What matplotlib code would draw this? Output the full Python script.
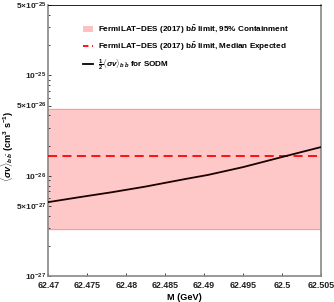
import matplotlib.pyplot as plt
from matplotlib.patches import Patch
from matplotlib.lines import Line2D
from matplotlib.ticker import FixedLocator, LogLocator, NullFormatter

plt.rcParams['font.family'] = ['Liberation Sans', 'DejaVu Sans']
plt.rcParams['mathtext.fontset'] = 'custom'
plt.rcParams['mathtext.rm'] = 'Liberation Sans:bold'
plt.rcParams['mathtext.it'] = 'Liberation Sans:italic:bold'
plt.rcParams['mathtext.bf'] = 'Liberation Sans:bold'

# curve
mass = [62.470, 62.4739, 62.4781, 62.4824, 62.4876, 62.4905, 62.495, 62.5006, 62.505]
sigv = [5.47e-27, 6.11e-27, 6.85e-27, 7.79e-27, 9.29e-27, 1.02e-26, 1.22e-26, 1.58e-26, 1.93e-26]

band_lo = 2.94e-27
band_hi = 4.65e-26
median = 1.57e-26

xticks = [62.47, 62.475, 62.48, 62.485, 62.49, 62.495, 62.5, 62.505]
xlabels = ['62.47', '62.475', '62.48', '62.485', '62.49', '62.495', '62.5', '62.505']
yticks = [1e-27, 5e-27, 1e-26, 5e-26, 1e-25, 5e-25]
ylabels = [r'$10^{-27}$', r'$5{\times}10^{-27}$', r'$10^{-26}$',
           r'$5{\times}10^{-26}$', r'$10^{-25}$', r'$5{\times}10^{-25}$']

fig = plt.figure(figsize=(3.34, 3.02), dpi=100)
ax = fig.add_axes([48.3 / 334, 1 - 276.3 / 302, (321 - 48.3) / 334, (276.3 - 5) / 302])

ax.axhspan(band_lo, band_hi, color='#ffc8c8', zorder=1)
ax.axhline(band_lo, color='#f4a0a0', lw=0.8, zorder=2)
ax.axhline(band_hi, color='#f4a0a0', lw=0.8, zorder=2)
ax.axhline(median, color='#ff0000', lw=1.3, ls=(0, (5, 3)), zorder=3)
ax.plot(mass, sigv, color='#1a0000', lw=1.3, zorder=4)

ax.set_yscale('log')
ax.set_xlim(62.47, 62.505)
ax.set_ylim(1e-27, 5e-25)
ax.set_xticks(xticks)
ax.set_xticklabels(xlabels)
ax.yaxis.set_major_locator(FixedLocator(yticks))
ax.set_yticklabels(ylabels)
ax.yaxis.set_minor_locator(LogLocator(base=10, subs=[2, 3, 4, 6, 7, 8, 9]))
ax.yaxis.set_minor_formatter(NullFormatter())
ax.tick_params(which='both', direction='in', colors='#222222',
               length=2.5, width=0.6, pad=1.5)
ax.tick_params(which='minor', length=1.5)
ax.tick_params(axis='x', labelsize=6.4, pad=3.5)
ax.tick_params(axis='y', labelsize=6.0, pad=1.5)
for lab in ax.get_xticklabels() + ax.get_yticklabels():
    lab.set_fontweight('bold')
for side in ['left', 'right', 'bottom']:
    ax.spines[side].set_color('#888888')
    ax.spines[side].set_linewidth(1.2)
ax.spines['top'].set_color('#000000')
ax.spines['top'].set_linewidth(0.6)

ax.set_xlabel('M (GeV)', fontsize=6.6, fontweight='bold', labelpad=2)
ax.set_ylabel(r'$\langle\sigma v\rangle_{b\,\bar{b}}$ (cm$^3$ s$^{-1}$)',
              fontsize=6.6, fontweight='bold')
ax.yaxis.set_label_coords(-0.118, 0.48)

handles = [
    Patch(facecolor='#ffc0c0', edgecolor='none'),
    Line2D([], [], color='#ff0000', lw=1.3, ls=(0, (3, 2))),
    Line2D([], [], color='#000000', lw=1.3),
]
labels = [
    r'FermiLAT$-$DES (2017) b$\bar{b}$ limit, 95% Containment',
    r'FermiLAT$-$DES (2017) b$\bar{b}$ limit, Median Expected',
    r'$\frac{1}{2}\langle\sigma v\rangle_{b\,\bar{b}}$ for SODM',
]
leg = ax.legend(handles, labels, loc='upper left', bbox_to_anchor=(0.115, 0.945),
                frameon=False, fontsize=5.9, handlelength=1.2, handletextpad=0.6,
                labelspacing=0.55, borderaxespad=0)
for t in leg.get_texts():
    t.set_fontweight('bold')

fig.savefig('out.png', dpi=100)
